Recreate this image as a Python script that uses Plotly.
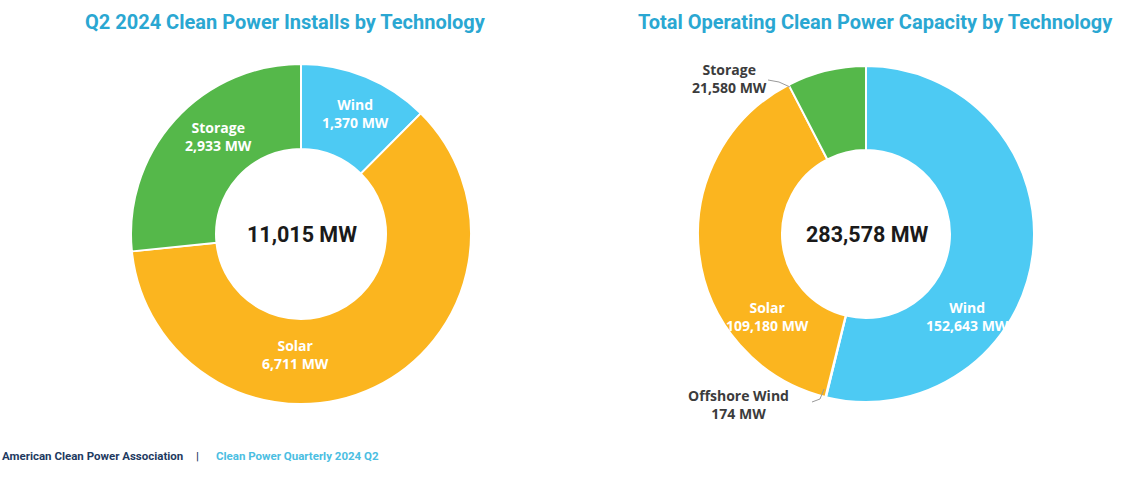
"""Clean power installs vs total operating capacity — two donut charts."""

import plotly.graph_objects as go

# Q2 2024 installs (MW)
install_labels = ["Wind", "Solar", "Storage"]
install_values = [1370, 6711, 2933]
install_total = "11,015 MW"

# Total operating capacity (MW)
capacity_labels = ["Wind", "Offshore Wind", "Solar", "Storage"]
capacity_values = [152643, 174, 109180, 21580]
capacity_total = "283,578 MW"

COLORS = {
    "Wind": "#4DCAF3",
    "Offshore Wind": "#2E8FD0",
    "Solar": "#FBB51F",
    "Storage": "#55B84A",
}
TITLE_COLOR = "#2AA7D2"
NAVY = "#1E3A5F"
FONT = "Roboto"
LABEL_FONT = "Open Sans"

W, H = 1140, 500


def px(x, y):
    # pixel position -> paper coordinates
    return x / W, 1 - y / H


fig = go.Figure()

fig.add_trace(go.Pie(
    labels=install_labels, values=install_values,
    marker=dict(colors=[COLORS[l] for l in install_labels], line=dict(color="white", width=2)),
    hole=0.5, sort=False, direction="clockwise", rotation=0,
    textinfo="none", hoverinfo="label+value",
    domain=dict(x=[131 / W, 471 / W], y=[1 - 404 / H, 1 - 64 / H]),
))

fig.add_trace(go.Pie(
    labels=capacity_labels, values=capacity_values,
    marker=dict(colors=[COLORS[l] for l in capacity_labels], line=dict(color="white", width=2)),
    hole=0.5, sort=False, direction="clockwise", rotation=0,
    textinfo="none", hoverinfo="label+value",
    domain=dict(x=[698 / W, 1034 / W], y=[1 - 402 / H, 1 - 66 / H]),
))

annotations = []


def note(text, pos, size=14, color="white", family=LABEL_FONT, xanchor="center"):
    x, y = px(*pos)
    annotations.append(dict(
        text=f"<b>{text}</b>", x=x, y=y, xref="paper", yref="paper",
        showarrow=False, xanchor=xanchor, yanchor="middle", align="center",
        font=dict(family=family, size=size, color=color),
    ))


def fmt(v):
    return f"{v:,} MW"


# titles
note("Q2 2024 Clean Power Installs by Technology", (285, 22), size=20, color=TITLE_COLOR, family=FONT)
note("Total Operating Clean Power Capacity by Technology", (875, 22), size=20, color=TITLE_COLOR, family=FONT)

# centre totals
note(install_total, (302, 234), size=21.5, color="#1A1A1A", family=FONT)
note(capacity_total, (867, 234), size=21.5, color="#1A1A1A", family=FONT)

# left donut labels
note(f"Wind<br>{fmt(install_values[0])}", (355, 114))
note(f"Solar<br>{fmt(install_values[1])}", (296, 354))
note(f"Storage<br>{fmt(install_values[2])}", (218, 136))

# right donut labels
note(f"Wind<br>{fmt(capacity_values[0])}", (967, 316))
note(f"Solar<br>{fmt(capacity_values[2])}", (767, 316))
note(f"Storage<br>{fmt(capacity_values[3])}", (729, 78), color="#3C3C3C")
note(f"Offshore Wind<br>{fmt(capacity_values[1])}", (738, 404), color="#3C3C3C")

# footer
note("American Clean Power Association", (0, 456), size=11.5, color=NAVY, family=FONT, xanchor="left")
note("|", (197, 456), size=11.5, color=NAVY, family=FONT)
note("Clean Power Quarterly 2024 Q2", (214, 456), size=11.5, color="#4BBEE2", family=FONT, xanchor="left")

# leader lines for the small outside labels
shapes = []
for path in (
    [(768, 80), (779, 82), (790, 87)],
    [(812, 402), (820, 399), (824, 389)],
):
    d = "M " + " L ".join(f"{px(x, y)[0]},{px(x, y)[1]}" for x, y in path)
    shapes.append(dict(type="path", path=d, xref="paper", yref="paper",
                       line=dict(color="#9A9A9A", width=1)))

fig.update_layout(
    width=W, height=H,
    margin=dict(l=0, r=0, t=0, b=0),
    paper_bgcolor="white", plot_bgcolor="white",
    showlegend=False,
    annotations=annotations,
    shapes=shapes,
)

fig.write_html("out.html", config={"displayModeBar": False},
               post_script="document.body.style.margin='0px';")
